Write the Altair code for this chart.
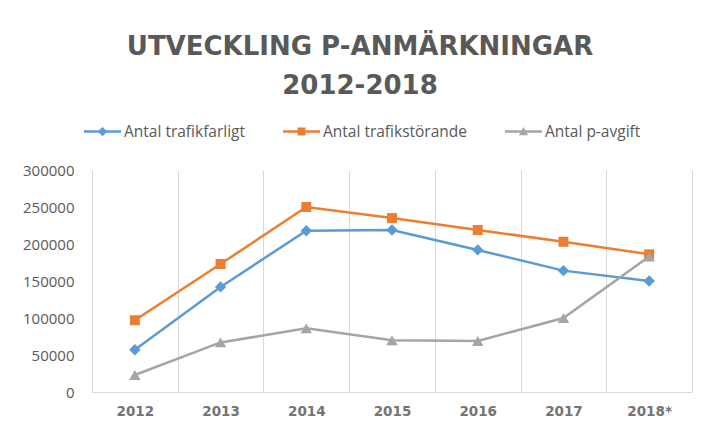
import altair as alt
import pandas as pd

years = ["2012", "2013", "2014", "2015", "2016", "2017", "2018*"]
series_names = ["Antal trafikfarligt", "Antal trafikstörande", "Antal p-avgift"]
trafikfarligt = [57000, 142000, 218000, 219000, 192000, 164000, 150000]
trafikstorande = [97000, 173000, 250000, 235000, 219000, 203000, 186000]
pavgift = [23000, 67000, 86000, 70000, 69000, 100000, 183000]
y_ticks = [0, 50000, 100000, 150000, 200000, 250000, 300000]
title_lines = ["UTVECKLING P-ANMÄRKNINGAR", "2012-2018"]

colors = ["#5B9BD5", "#ED7D31", "#A5A5A5"]
marker_shapes = ["diamond", "square", "triangle-up"]
marker_sizes = [130, 100, 130]
legend_paths = [
    "M-1,-0.068H1V0.068H-1Z M0,-0.25L0.25,0L0,0.25L-0.25,0Z",
    "M-1,-0.068H1V0.068H-1Z M-0.216,-0.216H0.216V0.216H-0.216Z",
    "M-1,-0.068H1V0.068H-1Z M0,-0.24L0.25,0.2L-0.25,0.2Z",
]

rows = []
for name, vals in zip(series_names, [trafikfarligt, trafikstorande, pavgift]):
    for yr, v in zip(years, vals):
        rows.append({"year": yr, "series": name, "value": v})
df = pd.DataFrame(rows)

x_enc = alt.X(
    "year:N",
    sort=years,
    title=None,
    scale=alt.Scale(paddingInner=0, paddingOuter=0),
    axis=alt.Axis(
        tickBand="extent",
        grid=True,
        gridColor="#D9D9D9",
        gridWidth=1,
        ticks=False,
        domain=True,
        domainColor="#D9D9D9",
        domainWidth=1,
        labelAngle=0,
        labelFont="DejaVu Sans",
        labelFontWeight="bold",
        labelFontSize=13.5,
        labelColor="#747474",
        labelPadding=12,
    ),
)
y_enc = alt.Y(
    "value:Q",
    title=None,
    scale=alt.Scale(domain=[0, 300000], nice=False, zero=True),
    axis=alt.Axis(
        values=y_ticks,
        grid=False,
        ticks=False,
        tickSize=0,
        domain=False,
        labelFont="Open Sans",
        labelFontSize=15,
        labelColor="#595959",
        labelPadding=18,
        format="d",
    ),
)

base = alt.Chart(df)

layers = []
for name, col, shp, sz in zip(series_names, colors, marker_shapes, marker_sizes):
    sub = base.transform_filter(alt.datum.series == name)
    layers.append(sub.mark_line(strokeWidth=2.5, color=col).encode(x=x_enc, y=y_enc))
    layers.append(
        sub.mark_point(shape=shp, filled=True, size=sz, opacity=1, strokeWidth=0, color=col)
        .encode(x=x_enc, y=y_enc)
    )

legend_props = dict(
    title=None,
    orient="none",
    legendX=-8,
    legendY=-57,
    direction="horizontal",
    columnPadding=37,
    symbolSize=1369,
    symbolStrokeWidth=0,
    symbolOpacity=1,
    labelFont="Open Sans",
    labelFontSize=15.5,
    labelColor="#595959",
    labelOffset=3,
)

legend_layer = base.mark_point(filled=True, opacity=0, size=1).encode(
    x=x_enc,
    y=y_enc,
    color=alt.Color(
        "series:N",
        scale=alt.Scale(domain=series_names, range=colors),
        legend=alt.Legend(**legend_props),
    ),
    shape=alt.Shape(
        "series:N",
        scale=alt.Scale(domain=series_names, range=legend_paths),
        legend=alt.Legend(**legend_props),
    ),
)
layers.append(legend_layer)

chart = (
    alt.layer(*layers)
    .properties(
        width=600,
        height=222,
        padding={"left": 84, "top": 162, "right": 5, "bottom": 30},
        autosize=alt.AutoSizeParams(type="none"),
        background="white",
        title=alt.Title(
            title_lines,
            font="DejaVu Sans",
            fontSize=26,
            fontWeight="bold",
            color="#595959",
            lineHeight=39,
            anchor="middle",
            frame="group",
            dx=-32,
            offset=14,
        ),
    )
    .configure_view(stroke=None)
)

chart.save("out.html", embed_options={"renderer": "svg", "actions": False})
